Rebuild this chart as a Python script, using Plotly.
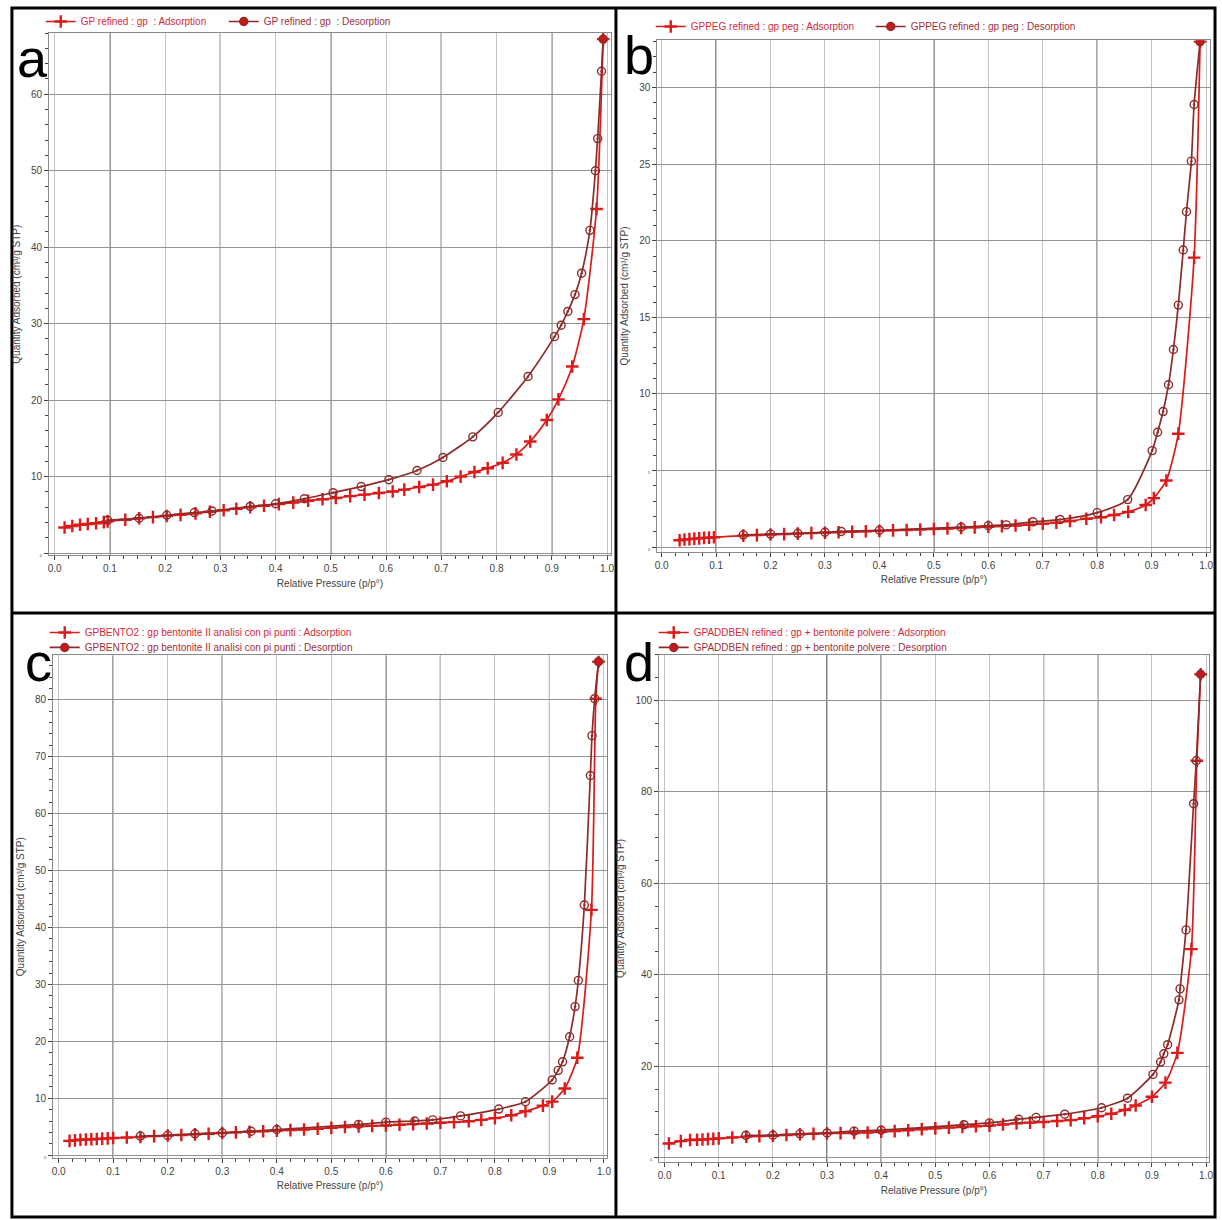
import plotly.graph_objects as go

W, H = 1222, 1220

# ---------------- data ----------------
a_ads_p = [0.018, 0.032, 0.046, 0.060, 0.075, 0.089, 0.096, 0.128, 0.153, 0.178, 0.203, 0.228, 0.255, 0.281,
           0.306, 0.329, 0.354, 0.379, 0.406, 0.432, 0.459, 0.485, 0.509, 0.535, 0.561, 0.587, 0.612, 0.633,
           0.660, 0.685, 0.710, 0.735, 0.760, 0.784, 0.811, 0.836, 0.861, 0.891, 0.912, 0.937, 0.958, 0.981, 0.993]
a_ads_q = [3.35, 3.55, 3.7, 3.8, 3.9, 4.05, 4.15, 4.37, 4.55, 4.7, 4.85, 5.0, 5.2, 5.4,
           5.6, 5.8, 6.0, 6.2, 6.4, 6.6, 6.85, 7.05, 7.2, 7.45, 7.65, 7.85, 8.05, 8.3,
           8.65, 8.95, 9.4, 10.0, 10.6, 11.1, 11.8, 12.9, 14.6, 17.4, 20.1, 24.4, 30.6, 45.0, 67.2]
a_des_p = [0.993, 0.990, 0.983, 0.979, 0.969, 0.954, 0.942, 0.929, 0.917, 0.905, 0.857, 0.803, 0.757, 0.703,
           0.656, 0.605, 0.555, 0.504, 0.452, 0.400, 0.354, 0.285, 0.253, 0.203, 0.153, 0.096]
a_des_q = [67.2, 63.0, 54.2, 50.0, 42.2, 36.6, 33.8, 31.6, 29.8, 28.3, 23.1, 18.4, 15.2, 12.5,
           10.8, 9.6, 8.7, 7.9, 7.1, 6.45, 6.1, 5.5, 5.3, 4.95, 4.55, 4.3]

b_ads_p = [0.033, 0.042, 0.051, 0.060, 0.069, 0.078, 0.087, 0.096, 0.15, 0.175, 0.2, 0.225, 0.25, 0.275, 0.3,
           0.325, 0.35, 0.375, 0.4, 0.425, 0.45, 0.475, 0.5, 0.525, 0.55, 0.575, 0.6, 0.625, 0.65, 0.675, 0.7,
           0.725, 0.75, 0.78, 0.807, 0.831, 0.857, 0.889, 0.904, 0.927, 0.949, 0.978, 0.989]
b_ads_q = [0.45, 0.5, 0.52, 0.55, 0.57, 0.6, 0.62, 0.64, 0.75, 0.78, 0.82, 0.85, 0.88, 0.91, 0.94,
           0.97, 1.0, 1.03, 1.06, 1.09, 1.12, 1.15, 1.18, 1.21, 1.25, 1.29, 1.33, 1.37, 1.41, 1.46, 1.52,
           1.6, 1.7, 1.85, 1.95, 2.1, 2.3, 2.75, 3.2, 4.35, 7.4, 18.9, 33.0]
b_des_p = [0.989, 0.978, 0.973, 0.964, 0.958, 0.949, 0.940, 0.931, 0.921, 0.911, 0.901, 0.856, 0.800, 0.732,
           0.682, 0.633, 0.600, 0.550, 0.400, 0.330, 0.300, 0.250, 0.200, 0.150]
b_des_q = [33.0, 28.9, 25.2, 21.9, 19.4, 15.8, 12.9, 10.6, 8.85, 7.5, 6.3, 3.1, 2.25, 1.8,
           1.65, 1.45, 1.4, 1.3, 1.1, 1.02, 0.97, 0.9, 0.85, 0.8]

c_ads_p = [0.02, 0.03, 0.04, 0.05, 0.06, 0.07, 0.08, 0.09, 0.1, 0.125, 0.15, 0.175, 0.2, 0.225, 0.25, 0.275,
           0.3, 0.325, 0.35, 0.375, 0.4, 0.425, 0.45, 0.475, 0.5, 0.525, 0.55, 0.575, 0.6, 0.625, 0.65, 0.675,
           0.7, 0.725, 0.752, 0.775, 0.80, 0.83, 0.856, 0.888, 0.905, 0.928, 0.951, 0.977, 0.985, 0.99]
c_ads_q = [2.5, 2.6, 2.7, 2.75, 2.8, 2.85, 2.9, 2.95, 3.0, 3.1, 3.2, 3.35, 3.45, 3.55, 3.65, 3.75,
           3.9, 4.0, 4.1, 4.2, 4.3, 4.4, 4.5, 4.65, 4.8, 4.95, 5.05, 5.15, 5.2, 5.35, 5.45, 5.55,
           5.7, 5.8, 5.95, 6.2, 6.5, 7.0, 7.7, 8.7, 9.4, 11.7, 17.1, 43.1, 80.2, 86.7]
c_des_p = [0.99, 0.983, 0.978, 0.975, 0.964, 0.953, 0.947, 0.937, 0.924, 0.916, 0.905, 0.856, 0.807, 0.737,
           0.686, 0.653, 0.60, 0.55, 0.40, 0.353, 0.30, 0.25, 0.20, 0.15]
c_des_q = [86.7, 80.2, 73.7, 66.7, 43.95, 30.7, 26.1, 20.8, 16.4, 14.9, 13.2, 9.4, 8.1, 6.9,
           6.2, 6.0, 5.8, 5.4, 4.5, 4.2, 3.9, 3.75, 3.47, 3.35]

d_ads_p = [0.008, 0.03, 0.047, 0.06, 0.07, 0.08, 0.09, 0.1, 0.125, 0.151, 0.175, 0.2, 0.225, 0.25, 0.275,
           0.3, 0.325, 0.35, 0.375, 0.4, 0.425, 0.45, 0.475, 0.5, 0.525, 0.55, 0.575, 0.6, 0.625, 0.65, 0.675,
           0.7, 0.725, 0.75, 0.775, 0.8, 0.825, 0.85, 0.87, 0.9, 0.925, 0.947, 0.973, 0.983, 0.99]
d_ads_q = [3.1, 3.6, 3.85, 3.9, 3.95, 4.05, 4.1, 4.2, 4.4, 4.6, 4.7, 4.8, 4.95, 5.1, 5.2,
           5.3, 5.35, 5.4, 5.5, 5.65, 5.8, 6.0, 6.2, 6.4, 6.55, 6.7, 6.85, 7.0, 7.25, 7.5, 7.65,
           7.8, 8.0, 8.2, 8.6, 9.05, 9.6, 10.4, 11.4, 13.3, 16.4, 22.9, 45.6, 86.8, 105.7]
d_des_p = [0.99, 0.982, 0.977, 0.963, 0.952, 0.95, 0.929, 0.922, 0.916, 0.902, 0.855, 0.807, 0.739, 0.686,
           0.654, 0.60, 0.553, 0.40, 0.35, 0.30, 0.25, 0.20, 0.15]
d_des_q = [105.7, 86.8, 77.4, 49.8, 36.9, 34.5, 24.7, 22.7, 20.9, 18.2, 13.0, 10.9, 9.5, 8.8,
           8.4, 7.6, 7.2, 6.0, 5.8, 5.4, 5.2, 4.9, 4.85]

names_a = ["GP refined : gp  : Adsorption", "GP refined : gp  : Desorption"]
names_b = ["GPPEG refined : gp peg : Adsorption", "GPPEG refined : gp peg : Desorption"]
names_c = ["GPBENTO2 : gp bentonite II analisi con pi punti : Adsorption",
           "GPBENTO2 : gp bentonite II analisi con pi punti : Desorption"]
names_d = ["GPADDBEN refined : gp + bentonite polvere : Adsorption",
           "GPADDBEN refined : gp + bentonite polvere : Desorption"]

a_yticks = [0, 10, 20, 30, 40, 50, 60]
b_yticks = [0, 5, 10, 15, 20, 25, 30]
c_yticks = [0, 10, 20, 30, 40, 50, 60, 70, 80]
d_yticks = [0, 20, 40, 60, 80, 100]
x_ticks = [0.0, 0.1, 0.2, 0.3, 0.4, 0.5, 0.6, 0.7, 0.8, 0.9, 1.0]

# ---------------- styling ----------------
ADS = "#dc1a1a"
DES = "#8e2a2a"
FONT = "Liberation Sans Narrow, Arial Narrow, Liberation Sans, Arial, sans-serif"

panels = [
    dict(letter="a", ads=(a_ads_p, a_ads_q), des=(a_des_p, a_des_q), names=names_a, yticks=a_yticks,
         small=[0], yminor=2, xr=[-0.01, 1.007], yr=[-0.3, 68],
         box=(46.4, 611.9, 33.1, 556.3), dark=[0.1, 0.3, 0.5, 0.7, 0.9],
         legend=dict(mode="h", x=38, y=7, entry=138), lpos=(30, 58)),
    dict(letter="b", ads=(b_ads_p, b_ads_q), des=(b_des_p, b_des_q), names=names_b, yticks=b_yticks,
         small=[0, 5], yminor=1, xr=[-0.008, 1.008], yr=[-0.3, 33.1],
         box=(658.6, 1215.4, 40.2, 552.6), dark=[0.1, 0.5, 0.8],
         legend=dict(mode="h", x=652, y=12, entry=175), lpos=(640, 55)),
    dict(letter="c", ads=(c_ads_p, c_ads_q), des=(c_des_p, c_des_q), names=names_c, yticks=c_yticks,
         small=[0], yminor=2, xr=[-0.01, 1.005], yr=[-0.5, 87.8],
         box=(50.5, 607.7, 656.5, 1159.9), dark=[0.1, 0.3, 0.6, 0.7, 0.9],
         legend=dict(mode="v", x=42, y=[619, 634]), lpos=(36, 663)),
    dict(letter="d", ads=(d_ads_p, d_ads_q), des=(d_des_p, d_des_q), names=names_d, yticks=d_yticks,
         small=[0], yminor=5, xr=[-0.01, 1.005], yr=[-1, 110],
         box=(660.5, 1213.7, 655.7, 1164.1), dark=[0.3, 0.4, 0.7, 0.8],
         legend=dict(mode="v", x=655, y=[619, 634]), lpos=(640, 663)),
]

fig = go.Figure()
shapes = []
annotations = []
layout = dict(width=W, height=H, margin=dict(l=0, r=0, t=0, b=0),
              paper_bgcolor="white", plot_bgcolor="white", showlegend=True,
              font=dict(family=FONT, size=10, color="#333333"))


def legend_dict(x, y, orientation):
    return dict(x=x / W, y=1 - y / H, xanchor="left", yanchor="top",
                orientation=orientation, bgcolor="rgba(0,0,0,0)",
                font=dict(family=FONT, size=10, color="#c0303a"),
                tracegroupgap=0, itemwidth=30, traceorder="normal")


legend_count = 0
for i, p in enumerate(panels, start=1):
    key = "" if i == 1 else str(i)
    xa, ya = f"x{key}", f"y{key}"
    L, R, T, B = p["box"]
    adsp, adsq = p["ads"]
    desp, desq = p["des"]
    lgd = p["legend"]

    if lgd["mode"] == "h":
        legend_count += 1
        lname = "legend" if legend_count == 1 else f"legend{legend_count}"
        ld = legend_dict(lgd["x"], lgd["y"], "h")
        ld["entrywidth"] = lgd["entry"]
        ld["entrywidthmode"] = "pixels"
        layout[lname] = ld
        lg_ads = lg_des = lname
    else:
        names_l = []
        for yy in lgd["y"]:
            legend_count += 1
            lname = f"legend{legend_count}"
            layout[lname] = legend_dict(lgd["x"], yy, "v")
            names_l.append(lname)
        lg_ads, lg_des = names_l

    fig.add_trace(go.Scatter(
        x=adsp, y=adsq, mode="lines+markers", xaxis=xa, yaxis=ya, legend=lg_ads,
        name=f'<span style="color:#d42a3a">{p["names"][0]}</span>',
        line=dict(color=ADS, width=1.7, shape="spline", smoothing=0.6),
        marker=dict(symbol="cross-thin-open", size=9, line=dict(color=ADS, width=2.4), color=ADS)))
    des_sym = ["circle"] + ["circle-open-dot"] * (len(desp) - 1)
    fig.add_trace(go.Scatter(
        x=desp, y=desq, mode="lines+markers", xaxis=xa, yaxis=ya, legend=lg_des,
        name=f'<span style="color:#a0303a">{p["names"][1]}</span>',
        line=dict(color=DES, width=1.7, shape="spline", smoothing=0.6),
        marker=dict(symbol=des_sym, size=8, color=["#c81818"] + [DES] * (len(desp) - 1),
                    line=dict(color=DES, width=1.4))))

    layout[f"xaxis{key}"] = dict(
        domain=[L / W, R / W], anchor=ya, range=p["xr"],
        tickmode="array", tickvals=x_ticks, ticktext=[f"{v:.1f}" for v in x_ticks],
        ticks="outside", ticklen=4, tickcolor="#444", tickfont=dict(size=10, color="#444"),
        showgrid=True, gridcolor="#c4c4c4", gridwidth=1, zeroline=False,
        showline=True, linecolor="#8a8a8a", linewidth=1, mirror=True,
        minor=dict(tickmode="linear", tick0=0, dtick=0.025, ticks="outside", ticklen=3,
                   tickcolor="#444", showgrid=False),
        title=dict(text="Relative Pressure (p/p°)", font=dict(size=10, color="#444"), standoff=6),
    )
    ticktext = [f'<span style="font-size:4px">{v}</span>' if v in p["small"] else str(v) for v in p["yticks"]]
    layout[f"yaxis{key}"] = dict(
        domain=[(H - B) / H, (H - T) / H], anchor=xa, range=p["yr"],
        tickmode="array", tickvals=p["yticks"], ticktext=ticktext,
        ticks="outside", ticklen=4, tickcolor="#444", tickfont=dict(size=10, color="#444"),
        showgrid=True, gridcolor="#939393", gridwidth=1, zeroline=False,
        showline=True, linecolor="#8a8a8a", linewidth=1, mirror=True,
        minor=dict(tickmode="linear", tick0=0, dtick=p["yminor"], ticks="outside", ticklen=3,
                   tickcolor="#444", showgrid=False),
        title=dict(text="Quantity Adsorbed (cm³/g STP)", font=dict(size=10, color="#444"), standoff=8),
    )
    for v in p["dark"]:
        shapes.append(dict(type="line", xref=xa, yref=f"{ya} domain", x0=v, x1=v, y0=0, y1=1,
                           line=dict(color="#111111", width=1.1), layer="below"))
    annotations.append(dict(text=p["letter"], x=p["lpos"][0] / W, y=1 - p["lpos"][1] / H,
                            xref="paper", yref="paper", showarrow=False, xanchor="center", yanchor="middle",
                            font=dict(family="Liberation Sans, Arial, sans-serif", size=54, color="black")))

# panel frame lines
frame = dict(color="black", width=3)
shapes += [
    dict(type="rect", xref="paper", yref="paper", x0=9 / W, x1=1220 / W, y0=1 - 1219 / H, y1=1 - 8 / H,
         line=frame, layer="above"),
    dict(type="line", xref="paper", yref="paper", x0=617 / W, x1=617 / W, y0=1 - 1219 / H, y1=1 - 8 / H,
         line=frame, layer="above"),
    dict(type="line", xref="paper", yref="paper", x0=9 / W, x1=1220 / W, y0=1 - 614 / H, y1=1 - 614 / H,
         line=frame, layer="above"),
]

layout["shapes"] = shapes
layout["annotations"] = annotations
fig.update_layout(**layout)
fig.write_html("out.html")
